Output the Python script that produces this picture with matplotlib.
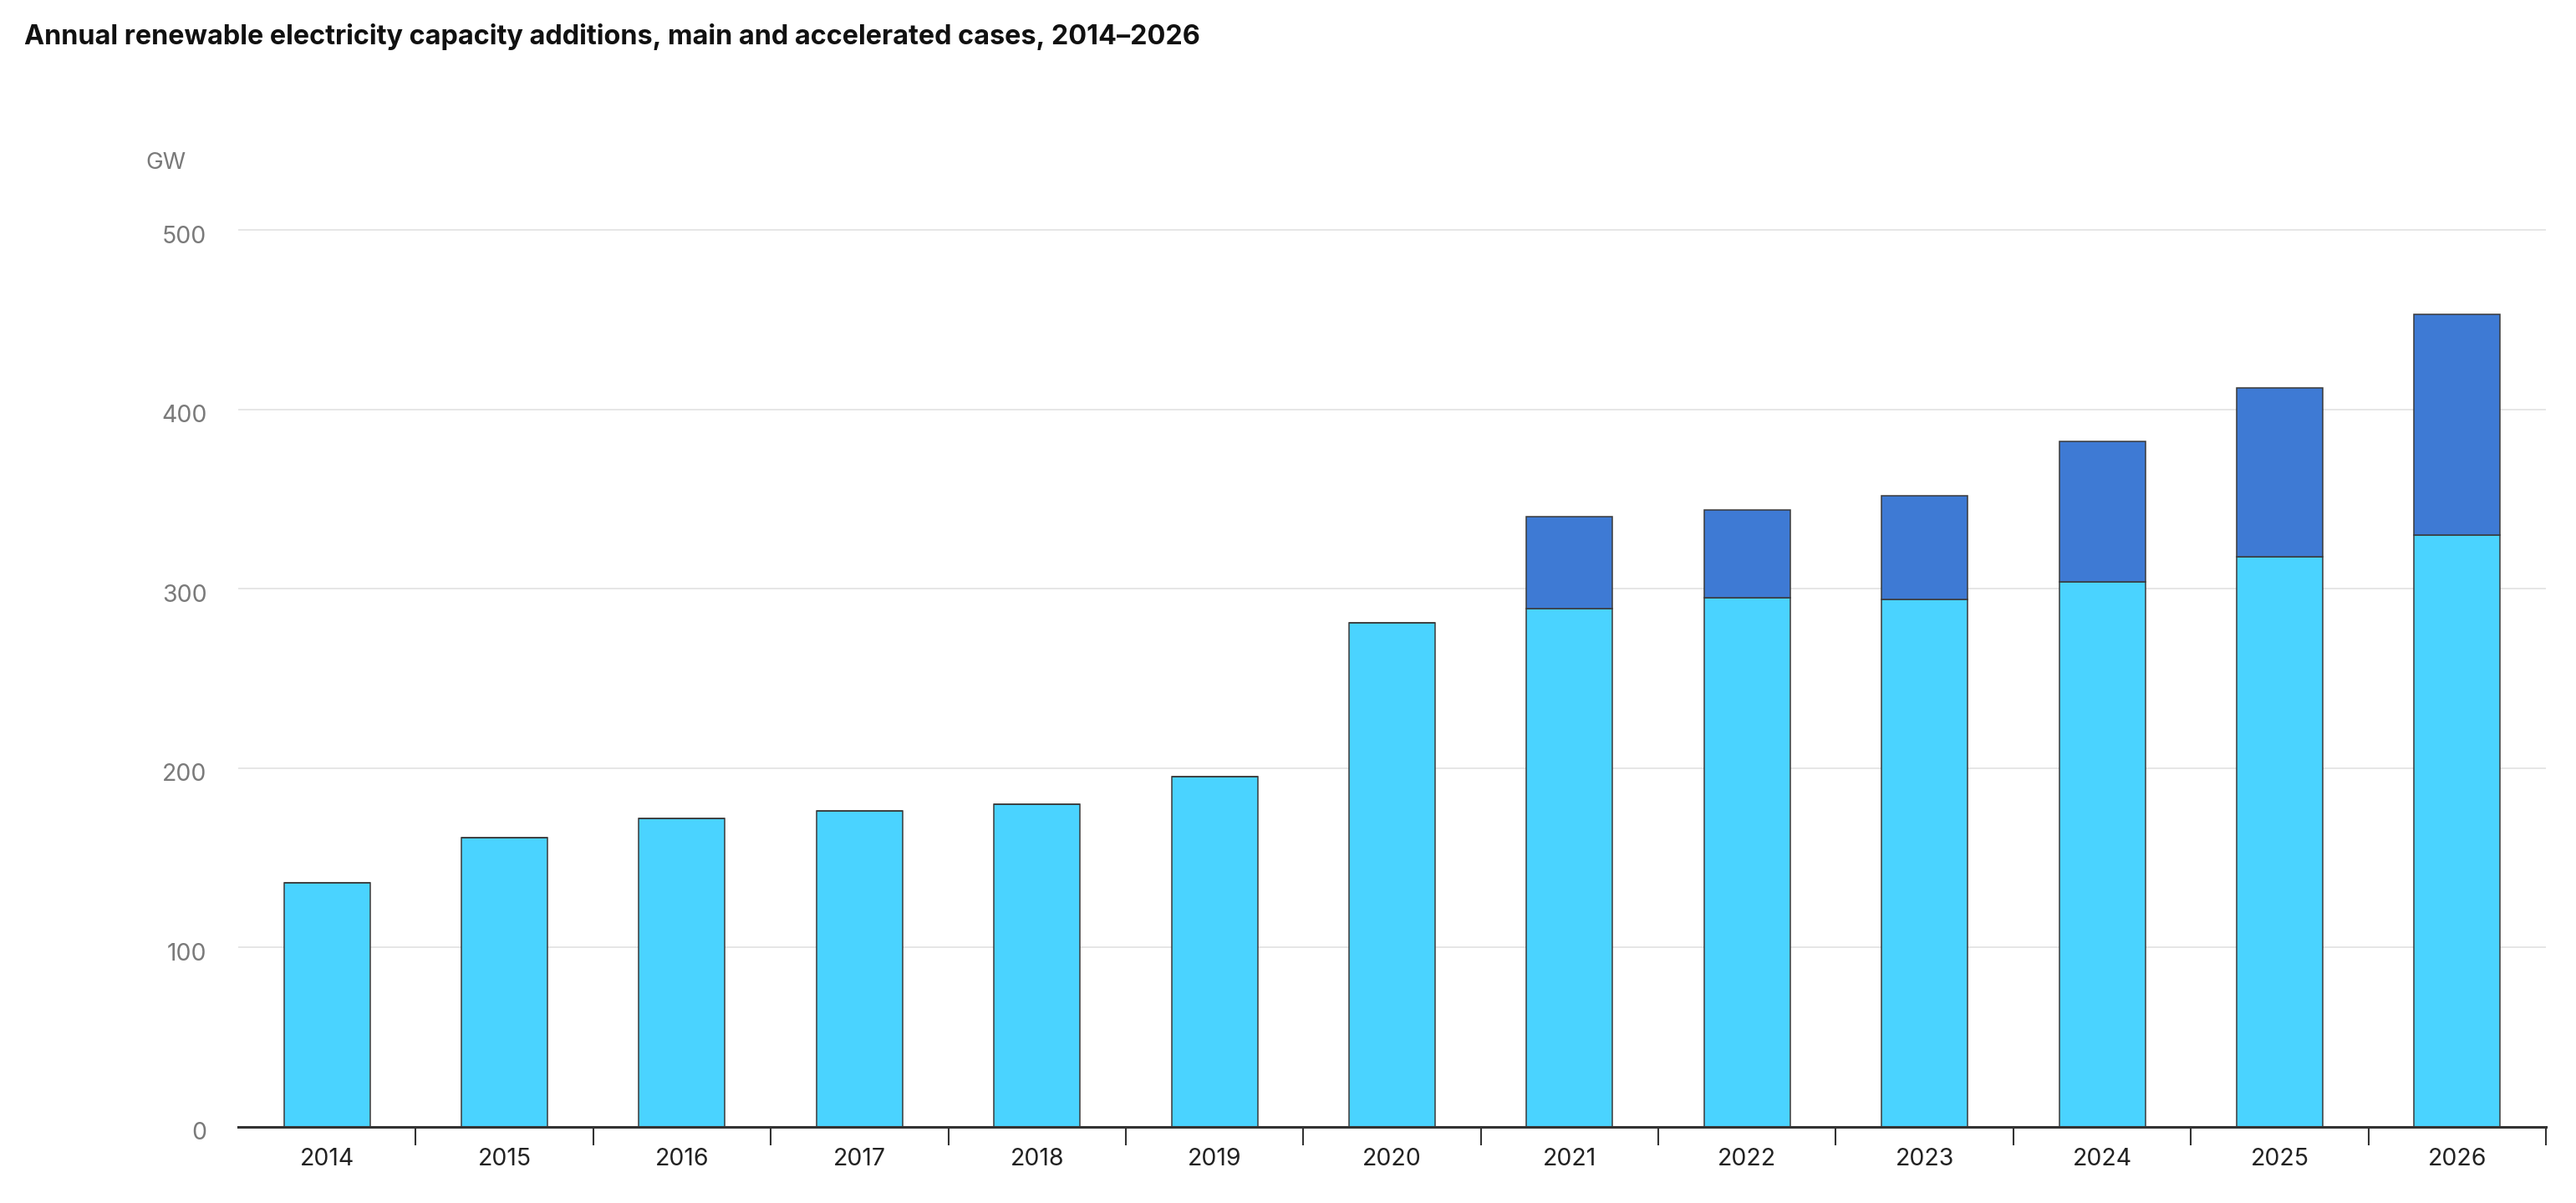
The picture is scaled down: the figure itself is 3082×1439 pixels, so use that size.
import matplotlib
matplotlib.use("Agg")
import matplotlib.pyplot as plt
import matplotlib.transforms as mtransforms
import numpy as np

years = ["2014", "2015", "2016", "2017", "2018", "2019", "2020",
         "2021", "2022", "2023", "2024", "2025", "2026"]
main_case = [136, 161, 172, 176, 180, 195, 281, 289, 295, 294, 304, 318, 330]
accelerated_extra = [0, 0, 0, 0, 0, 0, 0, 51, 49, 58, 78, 94, 123]
y_ticks = [0, 100, 200, 300, 400, 500]

W, H = 3082, 1439
fig = plt.figure(figsize=(W / 100, H / 100), dpi=100)
plt.rcParams['font.family'] = ['Inter', 'DejaVu Sans']

y0_px = 1347.7
px_per_gw = 214.5 / 100
ymax = 520
top_px = y0_px - ymax * px_per_gw
left_px, right_px = 285, 3046
ax = fig.add_axes([left_px / W, 1 - y0_px / H, (right_px - left_px) / W,
                   (y0_px - top_px) / H])

x = np.arange(len(years))
light = "#4AD3FF"
dark = "#3E7AD4"
edge = "#3a3a3a"
ax.bar(x, main_case, width=0.485, color=light, edgecolor=edge, linewidth=1.1, zorder=3)
ax.bar(x, accelerated_extra, width=0.485, bottom=main_case, color=dark,
       edgecolor=edge, linewidth=1.1, zorder=3)

ax.set_xlim(-0.5, len(years) - 0.5)
ax.set_ylim(0, ymax)
ax.set_yticks(y_ticks)
ax.set_yticklabels([str(v) for v in y_ticks])
ax.yaxis.grid(True, color="#e6e6e6", linewidth=1.4, zorder=0)
ax.set_axisbelow(True)

for s in ["top", "right", "left"]:
    ax.spines[s].set_visible(False)
ax.spines["bottom"].set_color("#333333")
ax.spines["bottom"].set_linewidth(2.2)
ax.spines["bottom"].set_zorder(4)

ax.set_xticks(x)
ax.set_xticklabels(years)
ax.set_xticks(np.arange(0.5, len(years), 1.0), minor=True)
ax.tick_params(axis="x", which="major", length=0, pad=18, labelsize=20.5,
               labelcolor="#222222")
ax.tick_params(axis="x", which="minor", length=16, width=1.5, color="#333333",
               direction="out")
ax.tick_params(axis="y", which="both", length=0, pad=27, labelsize=20.5,
               labelcolor="#7a7a7a")

offset = mtransforms.ScaledTranslation(0, -5 / 100, fig.dpi_scale_trans)
for lbl in ax.get_yticklabels():
    lbl.set_transform(lbl.get_transform() + offset)

fig.text(29 / W, 1 - 53 / H,
         "Annual renewable electricity capacity additions, main and accelerated cases, 2014\u20132026",
         fontsize=23.3, fontweight="bold", color="#111111", ha="left", va="baseline")
fig.text(174 / W, 1 - 194.5 / H, "GW", fontsize=20, color="#7a7a7a",
         ha="left", va="center")

fig.savefig("out.png", dpi=100, facecolor="white")
